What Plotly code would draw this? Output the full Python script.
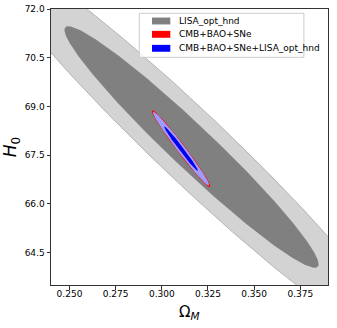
import numpy as np
import plotly.graph_objects as go

# ---- data ----
series_names = ["LISA_opt_hnd", "CMB+BAO+SNe", "CMB+BAO+SNe+LISA_opt_hnd"]
centers_om = [0.3161, 0.3104, 0.3104]
centers_h0 = [67.75, 67.70, 67.70]
sigma_om = [0.04538, 0.00629, 0.00602]
sigma_h0 = [2.453, 0.472, 0.452]
rho = [-0.970, -0.985, -0.987]
dchi2_levels = [2.30, 6.17]          # 68% and 95% contours, 2 parameters

x_ticks = [0.250, 0.275, 0.300, 0.325, 0.350, 0.375]
y_ticks = [64.5, 66.0, 67.5, 69.0, 70.5, 72.0]
x_range = [0.24, 0.39]
y_range = [63.5, 72.0]
x_title = "Ω<sub><i>M</i></sub>"
y_title = "<i>H</i><sub>0</sub>"

# ---- styles ----
fill_1s = ["#808080", "#ff0000", "#0000ee"]
fill_2s = ["#d3d3d3", "#ff2020", "#9d9dff"]
edge_2s = ["#b4b4b4", "#ff0000", "#9d9dff"]
legend_col = ["#808080", "#ff0000", "#0000ff"]


def ellipse(i, k, n=600):
    cov = np.array([[sigma_om[i] ** 2, rho[i] * sigma_om[i] * sigma_h0[i]],
                    [rho[i] * sigma_om[i] * sigma_h0[i], sigma_h0[i] ** 2]])
    L = np.linalg.cholesky(cov)
    t = np.linspace(0, 2 * np.pi, n)
    circ = np.vstack([np.cos(t), np.sin(t)]) * np.sqrt(k)
    pts = L @ circ
    return centers_om[i] + pts[0], centers_h0[i] + pts[1]


fig = go.Figure()
for i, name in enumerate(series_names):
    x2, y2 = ellipse(i, dchi2_levels[1])
    fig.add_trace(go.Scatter(x=x2, y=y2, mode="lines", fill="toself",
                             fillcolor=fill_2s[i], line=dict(color=edge_2s[i], width=1),
                             name=name, showlegend=False, hoverinfo="skip"))
    x1, y1 = ellipse(i, dchi2_levels[0])
    fig.add_trace(go.Scatter(x=x1, y=y1, mode="lines", fill="toself",
                             fillcolor=fill_1s[i], line=dict(color=fill_1s[i], width=0),
                             name=name, showlegend=False, hoverinfo="skip"))

# ---- hand-drawn legend (matplotlib-like) in paper coordinates ----
shapes = [dict(type="rect", xref="paper", yref="paper", x0=0.3188, x1=0.913,
               y0=0.825, y1=0.9844, fillcolor="rgba(255,255,255,0.85)",
               line=dict(color="#cccccc", width=1), layer="above")]
annotations = []
row_y = [0.9565, 0.9083, 0.8576]
for i, name in enumerate(series_names):
    shapes.append(dict(type="rect", xref="paper", yref="paper", x0=0.3646, x1=0.4307,
                       y0=row_y[i] - 0.0125, y1=row_y[i] + 0.0125,
                       fillcolor=legend_col[i], line=dict(width=0), layer="above"))
    annotations.append(dict(xref="paper", yref="paper", x=0.4538, y=row_y[i],
                            xanchor="left", yanchor="middle", text=name, showarrow=False,
                            font=dict(size=9, family="DejaVu Sans", color="#000000")))

# x-axis title placed as an annotation to match its height
annotations.append(dict(xref="paper", yref="paper", x=0.5, y=-0.098, xanchor="center",
                        yanchor="middle", text=x_title, showarrow=False,
                        font=dict(size=15, family="DejaVu Sans", color="#000000")))

axis_common = dict(showgrid=False, zeroline=False, showline=True, mirror=True,
                   linecolor="#333333", linewidth=1, ticks="outside", ticklen=3.5,
                   tickcolor="#333333", automargin=False,
                   tickfont=dict(size=9, color="#000000", family="DejaVu Sans"))

fig.update_layout(
    width=337, height=328,
    margin=dict(l=51, r=9, t=9, b=43),
    paper_bgcolor="white", plot_bgcolor="white",
    font=dict(family="DejaVu Sans", color="#000000"),
    xaxis=dict(range=x_range, tickvals=x_ticks, tickformat=".3f", ticklabelstandoff=-3,
               **axis_common),
    yaxis=dict(range=y_range, tickvals=y_ticks, tickformat=".1f",
               title=dict(text=y_title, font=dict(size=17), standoff=7),
               **axis_common),
    shapes=shapes,
    annotations=annotations,
    showlegend=False,
)

# no mode bar; remove the page's default 8 px body margin
fig.write_html("out.html", config={"displayModeBar": False, "staticPlot": True},
               post_script="document.body.style.margin='0px';")
